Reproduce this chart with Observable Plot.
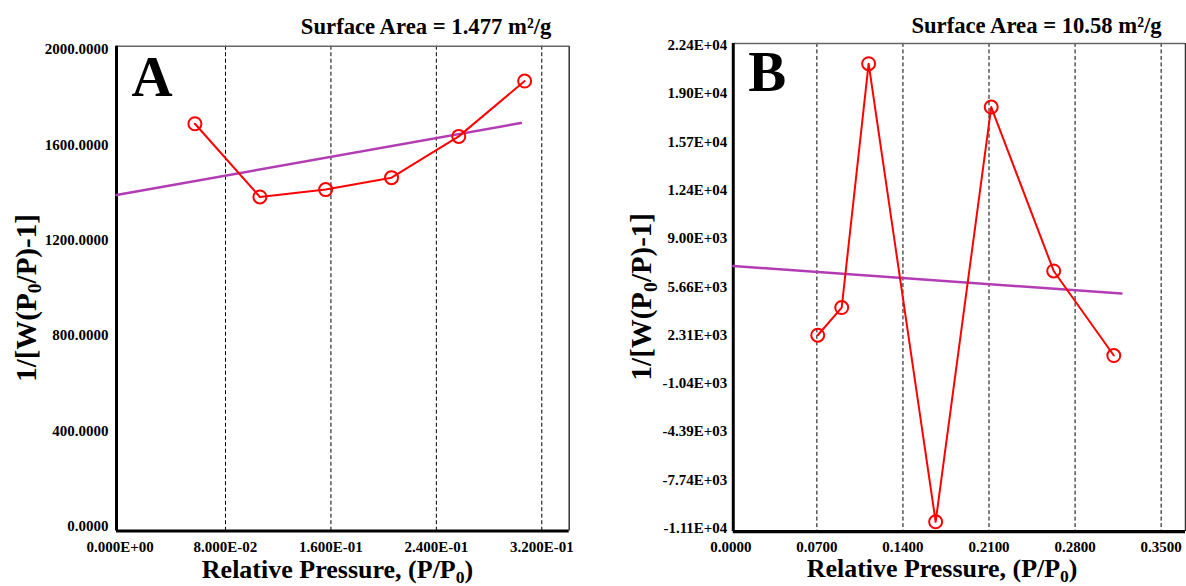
<!DOCTYPE html>
<html><head><meta charset="utf-8">
<script src="https://cdn.jsdelivr.net/npm/d3@7"></script>
<script src="https://cdn.jsdelivr.net/npm/@observablehq/plot@0.6"></script>
<style>
html,body{margin:0;padding:0;background:#fff;}
#wrap{position:relative;width:1186px;height:586px;overflow:hidden;background:#fff;}
#wrap > div{position:absolute;top:0;}
</style></head><body>
<div id="wrap"><div id="pa" style="left:0"></div><div id="pb" style="left:593px"></div></div>
<script>
// ---- Panel A data ----
const aX = [0.0568, 0.1061, 0.1560, 0.2060, 0.2570, 0.3070];
const aY = [1688, 1381, 1412, 1462, 1635, 1867];
const aFitX = [-0.0027, 0.3041];
const aFitY = [1389, 1691];
const aXTicks = [0, 0.08, 0.16, 0.24, 0.32];
const aGrid = [0.08, 0.16, 0.24, 0.32];
const aYTicks = [0, 400, 800, 1200, 1600, 2000];
const aTitle = "Surface Area = 1.477 m²/g";
const aLetter = "A";

// ---- Panel B data ----
const bX = [0.0707, 0.0902, 0.1121, 0.1666, 0.2118, 0.2626, 0.3115];
const bY = [2286, 4207, 21131, -10663, 18121, 6746, 878];
const bFitX = [0.002, 0.3177];
const bFitY = [7093, 5179];
const bXTicks = [0, 0.07, 0.14, 0.21, 0.28, 0.35];
const bGrid = [0.07, 0.14, 0.21, 0.28, 0.35];
const bYTicks = [-11100, -7750, -4400, -1050, 2300, 5650, 9000, 12350, 15700, 19050, 22400];
const bYTickLabels = ["-1.11E+04", "-7.74E+03", "-4.39E+03", "-1.04E+03", "2.31E+03", "5.66E+03", "9.00E+03", "1.24E+04", "1.57E+04", "1.90E+04", "2.24E+04"];
const bTitle = "Surface Area = 10.58 m²/g";
const bLetter = "B";

const yLabel = "1/[W(P0/P)-1]";
const xLabel = "Relative Pressure, (P/P0)";

const SERIF = "'Liberation Serif', 'Times New Roman', Times, serif";
const PURPLE = "#b23cb4";

const fmtE = d => d.toExponential(3).replace(/e([+-])(\d)$/, "E$10$2").replace("e", "E");

function panel(c) {
  const pts = c.x.map((x, i) => ({x, y: c.y[i]}));
  const fit = c.fitX.map((x, i) => ({x, y: c.fitY[i]}));
  const svg = Plot.plot({
    width: c.width, height: 586,
    marginLeft: c.mL, marginRight: c.mR, marginTop: c.mT, marginBottom: c.mB,
    style: {fontFamily: SERIF, fontWeight: "bold", fontSize: "15px", color: "#000", background: "transparent", overflow: "visible"},
    x: {domain: c.xDomain, ticks: c.xTicks, tickFormat: c.xFmt, tickSize: 0, tickPadding: 10, label: null},
    y: {domain: c.yDomain, ticks: c.yTicks, tickFormat: c.yFmt, tickSize: 0, tickPadding: c.yPad, label: null},
    marks: [
      Plot.ruleX(c.grid, {stroke: "#000", strokeWidth: 1, strokeDasharray: "4,2.5"}),
      Plot.ruleY([c.yDomain[1]], {stroke: "#666", strokeWidth: 1.5}),
      Plot.ruleX([c.xDomain[1]], {stroke: "#333", strokeWidth: 1.5}),
      Plot.ruleX([c.xDomain[0]], {stroke: "#000", strokeWidth: 3}),
      Plot.ruleY([c.yDomain[0]], {stroke: "#000", strokeWidth: 3.2}),
      Plot.line(fit, {x: "x", y: "y", stroke: PURPLE, strokeWidth: 2.5}),
      Plot.line(pts, {x: "x", y: "y", stroke: "#ff0000", strokeWidth: 2}),
      Plot.dot(pts, {x: "x", y: "y", r: 6.5, stroke: "#ff0000", strokeWidth: 2, fill: "none"}),
      Plot.text([c.letter], {text: d => d, frameAnchor: "top-left", textAnchor: "start", lineAnchor: "bottom", dx: c.letterDx, dy: c.letterDy, fontSize: 57, fontWeight: "bold"}),
      Plot.text([c.title], {text: d => d, frameAnchor: "top-right", textAnchor: "end", lineAnchor: "bottom", dx: c.titleDx, dy: c.titleDy, fontSize: 22.7, fontWeight: "bold"}),
      Plot.text([yLabel], {text: d => d, frameAnchor: "left", rotate: -90, textAnchor: "middle", lineAnchor: "bottom", dx: c.ylDx, dy: c.ylDy, fontSize: 29, fontWeight: "bold"}),
      Plot.text([xLabel], {text: d => d, frameAnchor: "bottom", textAnchor: "middle", lineAnchor: "bottom", dx: c.xlDx, dy: c.xlDy, fontSize: 26, fontWeight: "bold"})
    ]
  });
  // subscript "0" in P0
  d3.select(svg).selectAll("text").each(function() {
    const t = this.textContent;
    if (!t.includes("P0")) return;
    const fs = parseFloat(this.getAttribute("font-size") || d3.select(this.parentNode).attr("font-size")) || 26;
    const sh = fs * 0.18;
    const sel = d3.select(this);
    sel.text(null);
    t.split("P0").forEach((p, i) => {
      if (i > 0) {
        sel.append("tspan").text("P");
        sel.append("tspan").attr("font-size", (fs * 0.68) + "px").attr("dy", sh).text("0");
        sel.append("tspan").attr("dy", -sh).text(p);
      } else {
        sel.append("tspan").text(p);
      }
    });
  });
  return svg;
}

document.getElementById("pa").appendChild(panel({
  width: 593, mL: 116, mR: 24.3, mT: 45.7, mB: 55.5,
  x: aX, y: aY, fitX: aFitX, fitY: aFitY,
  xDomain: [-0.0027, 0.3408], yDomain: [-19, 2013],
  xTicks: aXTicks, yTicks: aYTicks, grid: aGrid,
  xFmt: fmtE, yFmt: d => d.toFixed(4), yPad: 8,
  letter: aLetter, letterDx: 15, letterDy: 49.3,
  title: aTitle, titleDx: -17.8, titleDy: -12.4,
  ylDx: -80.3, ylDy: 9.4, xlDx: -5.3, xlDy: 47.3
}));

document.getElementById("pb").appendChild(panel({
  width: 594, mL: 140, mR: 1, mT: 43, mB: 54,
  x: bX, y: bY, fitX: bFitX, fitY: bFitY,
  xDomain: [0.002, 0.3698], yDomain: [-11343, 22539],
  xTicks: bXTicks, yTicks: bYTicks, grid: bGrid,
  xFmt: d => d.toFixed(4), yFmt: d => bYTickLabels[bYTicks.indexOf(d)], yPad: 6,
  letter: bLetter, letterDx: 15, letterDy: 48,
  title: bTitle, titleDx: -23.9, titleDy: -10.7,
  ylDx: -82, ylDy: 9.2, xlDx: -17.3, xlDy: 45.3
}));
</script>
</body></html>
